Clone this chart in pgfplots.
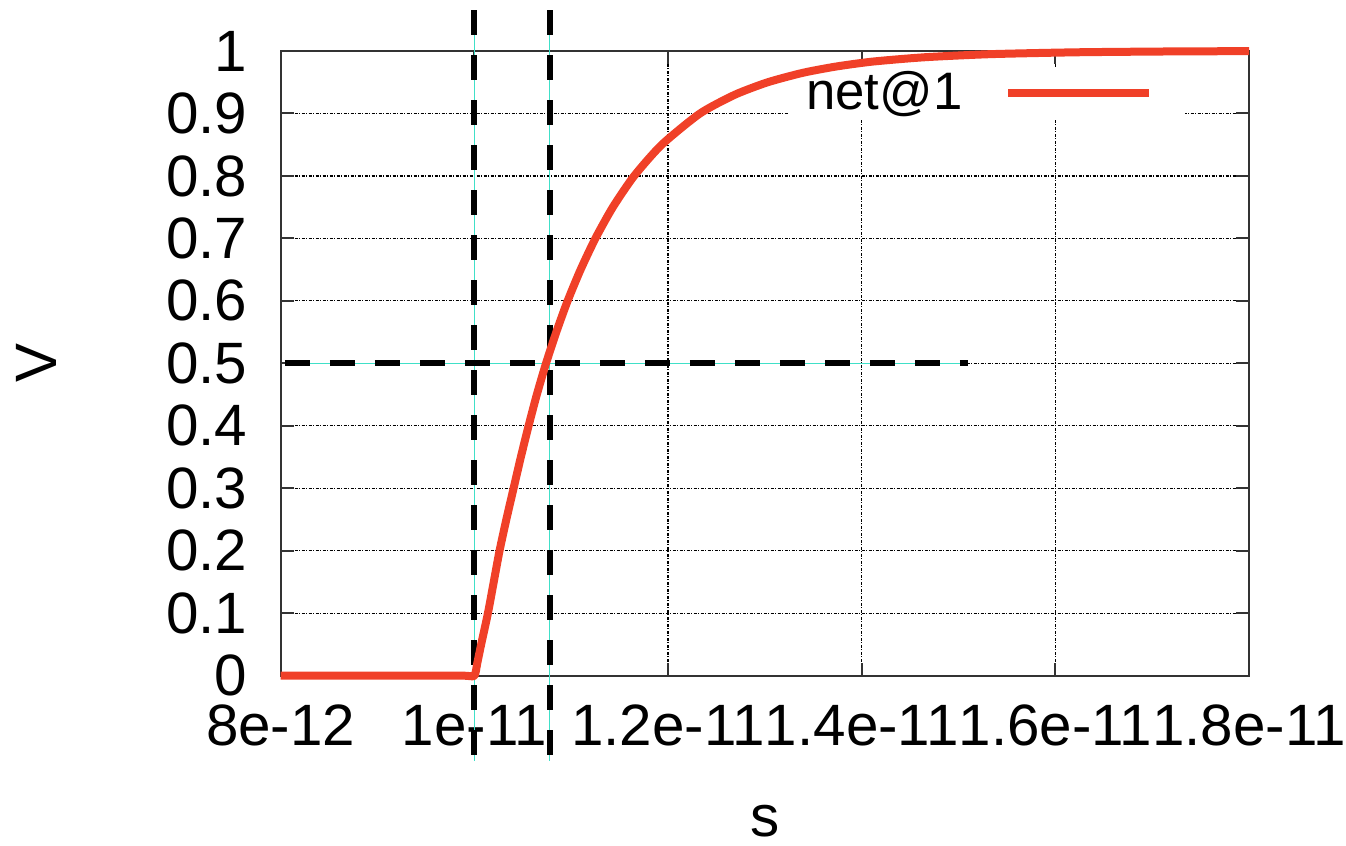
\documentclass[border=0pt]{standalone}
\usepackage{pgfplots}
\pgfplotsset{compat=1.18}
\usepackage{fontspec}
\setmainfont{Liberation Sans}
\definecolor{netred}{RGB}{240,64,40}
\definecolor{guide}{RGB}{64,224,200}
\pgfplotstableread{
x y
8.0e-12 0
9.0e-12 0
9.6e-12 0
9.9e-12 0
1.000e-11 0
1.003e-11 0.02
1.007e-11 0.05
1.014e-11 0.10
1.020e-11 0.15
1.026e-11 0.20
1.033e-11 0.25
1.0405e-11 0.30
1.048e-11 0.35
1.056e-11 0.40
1.0645e-11 0.45
1.074e-11 0.50
1.0846e-11 0.55
1.0963e-11 0.60
1.1097e-11 0.65
1.1250e-11 0.70
1.1430e-11 0.75
1.1650e-11 0.80
1.1935e-11 0.85
1.2330e-11 0.90
1.2690e-11 0.93
1.3030e-11 0.95
1.3390e-11 0.965
1.3730e-11 0.975
1.4110e-11 0.983
1.4650e-11 0.99
1.5340e-11 0.995
1.6250e-11 0.998
1.7300e-11 0.9994
1.8000e-11 0.9997
}\netdata
\begin{document}
\begin{tikzpicture}
\begin{axis}[
  set layers=standard,
  at={(28.07mm,16.93mm)}, anchor=south west,
  scale only axis, width=96.83mm, height=62.47mm,
  xmin=8e-12, xmax=1.8e-11, ymin=0, ymax=1,
  clip=false,
  scaled x ticks=false, scaled y ticks=false,
  font=\fontsize{16.6}{19}\selectfont,
  xtick={8e-12,1e-11,1.2e-11,1.4e-11,1.6e-11,1.8e-11},
  xticklabels={8e-12,1e-11,1.2e-11,1.4e-11,1.6e-11,1.8e-11},
  ytick={0,0.1,0.2,0.3,0.4,0.5,0.6,0.7,0.8,0.9,1},
  yticklabels={0,0.1,0.2,0.3,0.4,0.5,0.6,0.7,0.8,0.9,1},
  tick align=inside, xtick pos=both, ytick pos=both,
  major tick length=1.3mm,
  tick style={black!80, line width=0.2mm},
  axis line style={black!80, line width=0.2mm},
  grid=major,
  major grid style={black, line width=0.12mm, dash pattern=on 0.3mm off 0.15mm on 0.1mm off 0.15mm},
  xticklabel style={yshift=-1.7mm},
  yticklabel style={xshift=-2.1mm},
  xlabel={s}, ylabel={V},
  xlabel style={at={(axis description cs:0.5,-0.233)}, anchor=center},
  ylabel style={at={(axis description cs:-0.2527,0.5006)}, anchor=center},
  legend plot pos=right,
  legend cell align=right,
  legend image code/.code={\path (0mm,0mm) (19.8mm,0mm); \draw[#1] (3.5mm,0mm) -- (17.6mm,0mm);},
  legend style={at={(axis description cs:0.935,0.976)}, anchor=north east,
    draw=none, fill=white, inner xsep=1mm, inner ysep=0mm,
    nodes={inner ysep=0.5mm},
    font=\fontsize{15}{18}\selectfont},
]
\addplot[forget plot, on layer=axis foreground, guide, line width=0.12mm] coordinates {(1e-11,1.0656) (1e-11,-0.1366)};
\addplot[forget plot, on layer=axis foreground, black, line width=0.6mm, dash pattern=on 2.5mm off 2mm] coordinates {(1e-11,1.0656) (1e-11,-0.1366)};
\addplot[forget plot, on layer=axis foreground, guide, line width=0.12mm] coordinates {(1.0776e-11,1.0656) (1.0776e-11,-0.1366)};
\addplot[forget plot, on layer=axis foreground, black, line width=0.6mm, dash pattern=on 2.5mm off 2mm] coordinates {(1.0776e-11,1.0656) (1.0776e-11,-0.1366)};
\addplot[forget plot, on layer=axis foreground, guide, line width=0.12mm] coordinates {(8.044e-12,0.5) (1.51e-11,0.5)};
\addplot[forget plot, on layer=axis foreground, black, line width=0.6mm, dash pattern=on 2.5mm off 2mm] coordinates {(8.044e-12,0.5) (1.51e-11,0.5)};
\addplot[on layer=axis foreground, netred, line width=0.8mm, line join=round, smooth, tension=0.4] table {\netdata};
\addlegendentry{net@1}
\end{axis}
\pgfresetboundingbox
\path[use as bounding box] (0mm,0mm) rectangle (134.6mm,84.5mm);
\end{tikzpicture}
\end{document}
